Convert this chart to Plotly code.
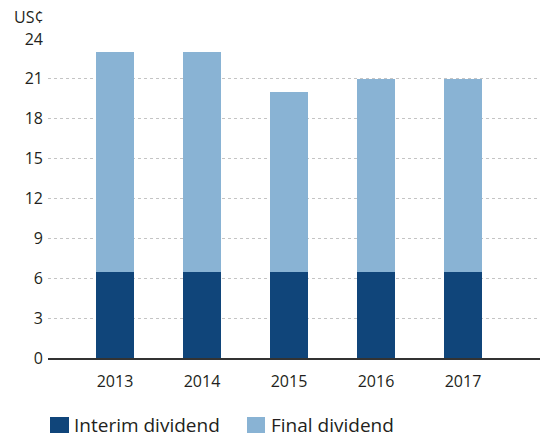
import plotly.graph_objects as go

years = ["2013", "2014", "2015", "2016", "2017"]
interim = [6.5, 6.5, 6.5, 6.5, 6.5]
final = [16.5, 16.5, 13.5, 14.5, 14.5]
y_ticks = [0, 3, 6, 9, 12, 15, 18, 21, 24]
series_names = ["Interim dividend", "Final dividend"]

DARK = "#10457a"
LIGHT = "#89b3d4"
TEXT = "#231f20"
FONT = "Open Sans"

fig = go.Figure()
fig.add_bar(x=years, y=interim, name=series_names[0], marker=dict(color=DARK, line=dict(width=0)), showlegend=False)
fig.add_bar(x=years, y=final, name=series_names[1], marker=dict(color=LIGHT, line=dict(width=0)), showlegend=False)

fig.update_layout(
    width=540, height=437,
    margin=dict(l=48, r=0, t=39, b=79),
    barmode="stack", bargap=0.563,
    plot_bgcolor="white", paper_bgcolor="white",
    font=dict(family=FONT, size=16, color=TEXT),
    xaxis=dict(
        range=[-0.77, 4.885], showgrid=False, showline=True, linecolor="#333333", linewidth=1.5,
        ticks="", tickfont=dict(size=16, color=TEXT), ticklabelstandoff=8,
    ),
    yaxis=dict(
        range=[0, 24], tickvals=y_ticks, showgrid=True, gridcolor="#c4c4c4", griddash="3px,3px",
        gridwidth=1, zeroline=False, ticks="", tickfont=dict(size=16, color=TEXT), ticklabelstandoff=4,
    ),
)

# Legend drawn manually
fig.add_shape(type="rect", xref="paper", yref="paper",
              x0=(50 - 48) / 492, x1=(69 - 48) / 492, y0=-(433 - 358) / 319, y1=-(417 - 358) / 319,
              fillcolor=DARK, line=dict(width=0))
fig.add_annotation(xref="paper", yref="paper", x=(72 - 48) / 492, y=-(425 - 358) / 319,
                   text=series_names[0], showarrow=False, xanchor="left", yanchor="middle",
                   font=dict(size=19, color=TEXT))
fig.add_shape(type="rect", xref="paper", yref="paper",
              x0=(247 - 48) / 492, x1=(265 - 48) / 492, y0=-(433 - 358) / 319, y1=-(417 - 358) / 319,
              fillcolor=LIGHT, line=dict(width=0))
fig.add_annotation(xref="paper", yref="paper", x=(269 - 48) / 492, y=-(425 - 358) / 319,
                   text=series_names[1], showarrow=False, xanchor="left", yanchor="middle",
                   font=dict(size=19, color=TEXT))
fig.add_annotation(xref="paper", yref="paper", x=(12 - 48) / 492, y=(358 - 17) / 319,
                   text="US¢", showarrow=False, xanchor="left", yanchor="middle",
                   font=dict(size=16, color=TEXT))

fig.write_html("out.html", config={"displayModeBar": False},
               post_script="document.body.style.margin='0';")
